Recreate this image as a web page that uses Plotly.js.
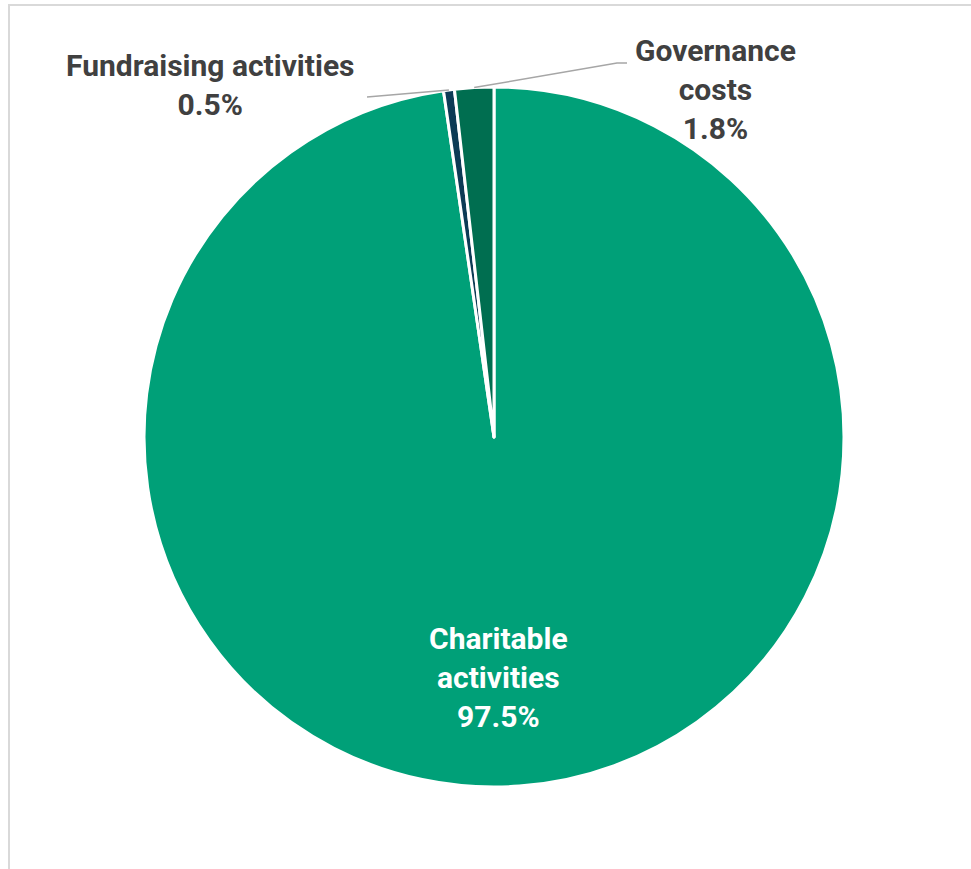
<!DOCTYPE html>
<html>
<head>
<meta charset="utf-8">
<script src="https://cdn.plot.ly/plotly-3.0.1.min.js"></script>
<style>
  html, body { margin: 0; padding: 0; background: #ffffff; }
  #frame { position: absolute; left: 8px; top: 4px; width: 963px; height: 865px;
           border-top: 2px solid #d9d9d9; border-left: 2px solid #d9d9d9; box-sizing: border-box; }
  #chart { position: absolute; left: 0; top: 0; width: 971px; height: 869px; }
</style>
</head>
<body>
<div id="frame"></div>
<div id="chart"></div>
<script>
// ---- data ----
const categories = ['Charitable activities', 'Fundraising activities', 'Governance costs'];
const displayLabels = ['Charitable<br>activities', 'Fundraising activities', 'Governance<br>costs'];
const values = [97.5, 0.5, 1.8];
const colors = ['#00a078', '#0c3b55', '#006e50'];

const W = 971, H = 869;
const cxPx = 494, cyPx = 437, Rpx = 350;
const domX = [(cxPx - Rpx) / W, (cxPx + Rpx) / W];
const domY = [(H - (cyPx + Rpx)) / H, (H - (cyPx - Rpx)) / H];

const total = values.reduce((a, b) => a + b, 0);
// mid angle (deg clockwise from 12 o'clock) of each slice
const mids = [];
let cum = 0;
values.forEach(v => { mids.push((cum + v / 2) / total * 360); cum += v; });
function edgePoint(i, rf) {
  const a = mids[i] * Math.PI / 180;
  return [cxPx + Rpx * rf * Math.sin(a), cyPx - Rpx * rf * Math.cos(a)];
}
const px = x => x / W, py = y => (H - y) / H;

const fontFam = 'Roboto, "Open Sans", sans-serif';
const textFont = { family: fontFam, size: 30, color: '#404040' };

const trace = {
  type: 'pie',
  labels: categories,
  values: values,
  sort: false,
  direction: 'clockwise',
  rotation: 0,
  domain: { x: domX, y: domY },
  marker: { colors: colors, line: { color: '#ffffff', width: 3 } },
  textinfo: 'none',
  hoverinfo: 'label+value',
  showlegend: false
};

const fmt = i => '<b>' + displayLabels[i] + '<br>' + values[i].toFixed(1) + '%</b>';

// leader lines and labels
const fPt = edgePoint(1, 1.0);
const gPt = edgePoint(2, 1.0);
const shapes = [
  { type: 'path', xref: 'paper', yref: 'paper',
    path: `M ${px(fPt[0])} ${py(fPt[1])} L ${px(367)} ${py(97)}`,
    line: { color: '#a6a6a6', width: 1.5 } },
  { type: 'path', xref: 'paper', yref: 'paper',
    path: `M ${px(gPt[0])} ${py(gPt[1])} L ${px(617)} ${py(63)} L ${px(627)} ${py(63)}`,
    line: { color: '#a6a6a6', width: 1.5 } }
];
const annotations = [
  { xref: 'paper', yref: 'paper', x: px(498), y: py(677), xanchor: 'center', yanchor: 'middle',
    text: fmt(0), showarrow: false, font: { family: fontFam, size: 30, color: '#ffffff' }, align: 'center' },
  { xref: 'paper', yref: 'paper', x: px(210), y: py(85), xanchor: 'center', yanchor: 'middle',
    text: fmt(1), showarrow: false, font: textFont, align: 'center' },
  { xref: 'paper', yref: 'paper', x: px(715), y: py(90), xanchor: 'center', yanchor: 'middle',
    text: fmt(2), showarrow: false, font: textFont, align: 'center' }
];

Plotly.newPlot('chart', [trace], {
  width: W, height: H,
  margin: { l: 0, r: 0, t: 0, b: 0 },
  paper_bgcolor: 'rgba(0,0,0,0)',
  plot_bgcolor: 'rgba(0,0,0,0)',
  shapes: shapes,
  annotations: annotations
}, { displayModeBar: false });
</script>
</body>
</html>
